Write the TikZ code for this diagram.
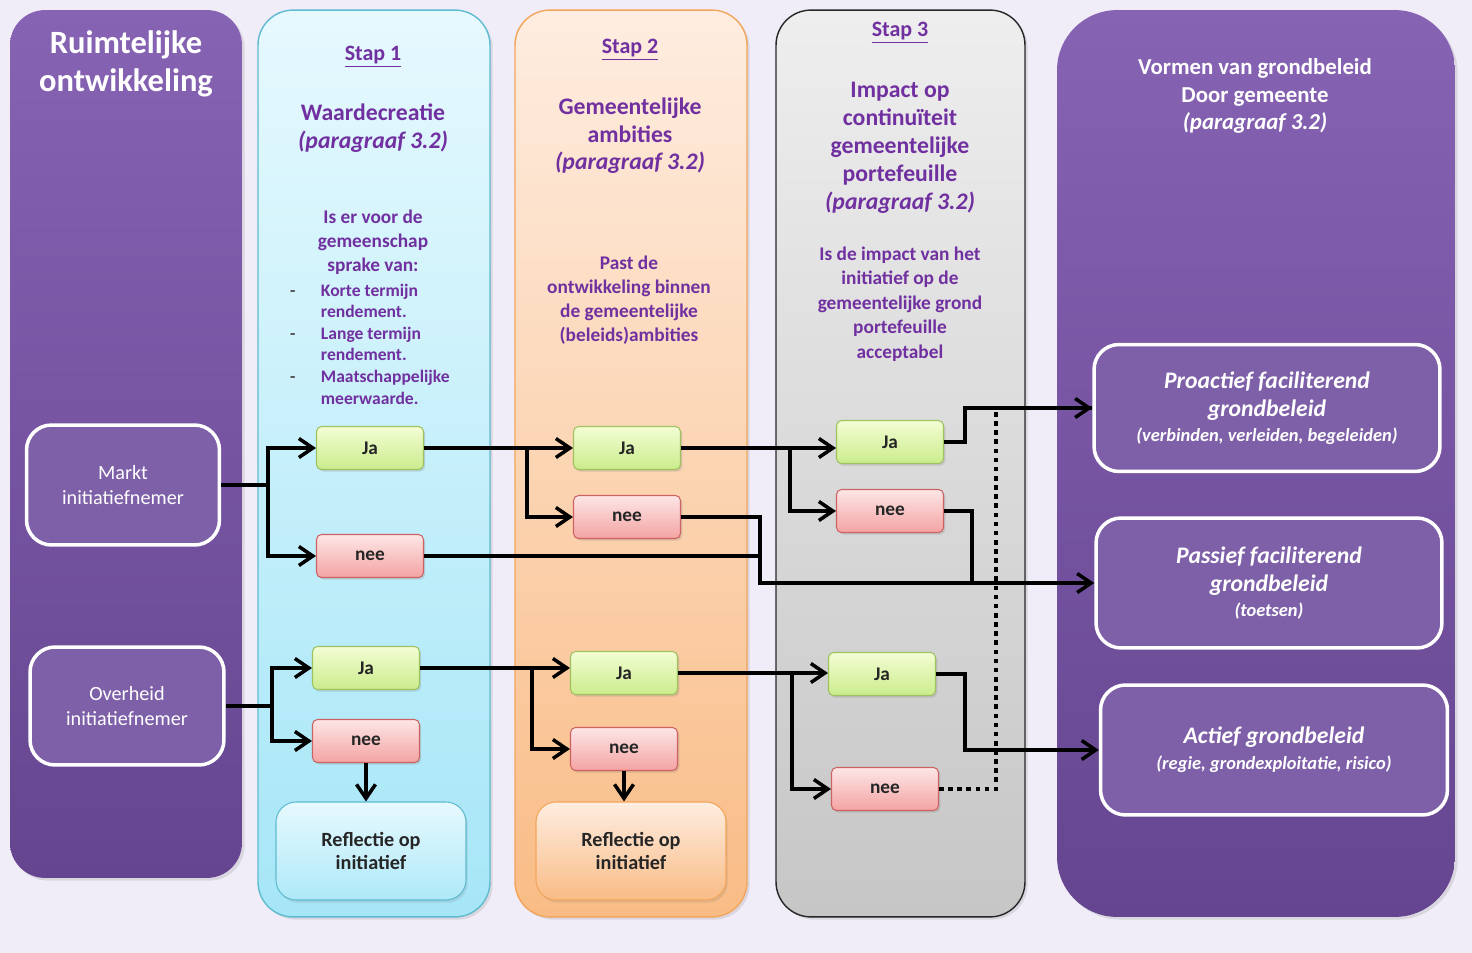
\documentclass[tikz,border=0pt]{standalone}
\usepackage{fontspec}
\setmainfont{Carlito}
\usetikzlibrary{positioning,arrows.meta,shadows,calc}
\definecolor{paper}{HTML}{F0ECF8}
\definecolor{plum}{HTML}{7030A0}
\definecolor{violettop}{HTML}{8763B3}
\definecolor{violetbot}{HTML}{654590}
\definecolor{violetin}{HTML}{7E60A8}
\definecolor{skytop}{HTML}{E6F9FE}
\definecolor{skybot}{HTML}{A6E6F7}
\definecolor{skyline}{HTML}{5FBBD0}
\definecolor{peachtop}{HTML}{FEEDE0}
\definecolor{peachbot}{HTML}{F9BC86}
\definecolor{peachline}{HTML}{F3A55A}
\definecolor{greytop}{HTML}{EEEEEE}
\definecolor{greybot}{HTML}{C6C6C6}
\definecolor{jatop}{HTML}{F3FDD4}
\definecolor{jabot}{HTML}{CBEC8C}
\definecolor{jaline}{HTML}{9DC25E}
\definecolor{neetop}{HTML}{FDE6E6}
\definecolor{neebot}{HTML}{F4A3A3}
\definecolor{neeline}{HTML}{CC6262}
\newcommand{\fsz}[2]{\fontsize{#1}{#2}\selectfont}
\newcommand{\dash}{\makebox[17.5pt][l]{\textcolor{black!70}{-}}}

\begin{document}
\begin{tikzpicture}[x=0.02cm, y=-0.02cm, >={Straight Barb[length=2.8mm,width=3.8mm]},
  lane/.style={rounded corners=0.7cm, inner sep=0pt, line width=0.8pt,
               drop shadow={opacity=0.2, shadow xshift=1.5pt, shadow yshift=-1.5pt}},
  pbox/.style={rounded corners=0.5cm, draw=white, line width=2pt, fill=violetin,
               text=white, align=center, inner sep=0pt},
  keuze/.style={rounded corners=0.1cm, minimum width=2.14cm, minimum height=0.86cm, inner sep=0pt,
                line width=0.6pt, font=\fsz{11}{13}\bfseries, text=black!85,
                drop shadow={opacity=0.25, shadow xshift=1pt, shadow yshift=-1.2pt}},
  ja/.style={keuze, top color=jatop, bottom color=jabot, draw=jaline},
  nee/.style={keuze, top color=neetop, bottom color=neebot, draw=neeline},
  refl/.style={rounded corners=0.4cm, minimum width=3.8cm, minimum height=1.96cm, align=center,
               line width=0.6pt, font=\fsz{11.5}{13.6}\bfseries, text=black!85,
               drop shadow={opacity=0.2, shadow xshift=1pt, shadow yshift=-1.5pt}},
  kop/.style={text=plum, align=center},
  flow/.style={->, line width=2pt},
  wire/.style={line width=2pt},
  dots/.style={line width=2.6pt, dash pattern=on 2.6pt off 2.6pt}]
\path[use as bounding box, fill=paper] (0,0) rectangle (1472,953);
% -- Ruimtelijke ontwikkeling
\node[lane, top color=violettop, bottom color=violetbot, minimum width=4.64cm, minimum height=17.36cm] (ruimte) at (126,444) {};
\node[text=white, align=center, font=\fsz{18.5}{21.5}\bfseries] (ruimtekop) at (126,64) {Ruimtelijke\\ontwikkeling};
\node[pbox, minimum width=3.86cm, minimum height=2.4cm, font=\fsz{11.5}{14.2}] (markt) at (123,485) {Markt\\initiatiefnemer};
\node[pbox, minimum width=3.88cm, minimum height=2.36cm, font=\fsz{11.5}{14.2}] (overheid) at (127,706) {Overheid\\initiatiefnemer};
% -- Stap 1
\node[lane, top color=skytop, bottom color=skybot, draw=skyline, minimum width=4.64cm, minimum height=18.14cm] (stap1) at (374,463.5) {};
\node[kop, font=\fsz{12.5}{15}\bfseries] (s1) at (373,57) {\underline{Stap 1}};
\node[kop, font=\fsz{13.5}{16}\bfseries] (w1) at (373,128) {Waardecreatie\\\textit{(paragraaf 3.2)}};
\node[kop, font=\fsz{11}{13.6}\bfseries] (v1) at (373,242) {Is er voor de\\gemeenschap\\sprake van:};
\node[kop, align=left, anchor=west, font=\fsz{10}{12.3}\bfseries] (l1) at (284,344)
  {\dash Korte termijn\\\hspace*{17.5pt}rendement.\\\dash Lange termijn\\\hspace*{17.5pt}rendement.\\\dash Maatschappelijke\\\hspace*{17.5pt}meerwaarde.};
\node[ja] (ja1) at (370,448) {Ja};
\node[nee] (nee1) at (370,556) {nee};
\node[ja] (ja1b) at (366,668) {Ja};
\node[nee] (nee1b) at (366,741) {nee};
\node[refl, top color=skytop, bottom color=skybot!90, draw=skyline] (refl1) at (371,851) {Reflectie op\\initiatief};
% -- Stap 2
\node[lane, top color=peachtop, bottom color=peachbot, draw=peachline, minimum width=4.64cm, minimum height=18.14cm] (stap2) at (631,463.5) {};
\node[kop, font=\fsz{12.5}{15}\bfseries] (s2) at (630,50) {\underline{Stap 2}};
\node[kop, font=\fsz{13.5}{15.6}\bfseries] (g2) at (630,136) {Gemeentelijke\\ambities\\\textit{(paragraaf 3.2)}};
\node[kop, font=\fsz{11}{13.6}\bfseries] (p2) at (629,300) {Past de\\ontwikkeling binnen\\de gemeentelijke\\(beleids)ambities};
\node[ja] (ja2) at (627,448) {Ja};
\node[nee] (nee2) at (627,517) {nee};
\node[ja] (ja2b) at (624,673) {Ja};
\node[nee] (nee2b) at (624,749) {nee};
\node[refl, top color=peachtop, bottom color=peachbot, draw=peachline] (refl2) at (631,851) {Reflectie op\\initiatief};
% -- Stap 3
\node[lane, top color=greytop, bottom color=greybot, draw=black!85, minimum width=4.98cm, minimum height=18.14cm] (stap3) at (900.5,463.5) {};
\node[kop, font=\fsz{12.5}{15}\bfseries] (s3) at (900,33) {\underline{Stap 3}};
\node[kop, font=\fsz{13.5}{15.9}\bfseries] (i3) at (900,148) {Impact op\\continuïteit\\gemeentelijke\\portefeuille\\\textit{(paragraaf 3.2)}};
\node[kop, font=\fsz{11}{13.9}\bfseries] (q3) at (900,304) {Is de impact van het\\initiatief op de\\gemeentelijke grond\\portefeuille\\acceptabel};
\node[ja] (ja3) at (890,442) {Ja};
\node[nee] (nee3) at (890,511) {nee};
\node[ja] (ja3b) at (882,674) {Ja};
\node[nee] (nee3b) at (885,789) {nee};
% -- Vormen van grondbeleid
\node[lane, rounded corners=1.2cm, top color=violettop, bottom color=violetbot, minimum width=7.96cm, minimum height=18.14cm] (vormen) at (1256,463.5) {};
\node[text=white, align=center, font=\fsz{13}{15.6}\bfseries] (vormenkop) at (1255,96) {Vormen van grondbeleid\\Door gemeente\\\textit{(paragraaf 3.2)}};
\node[pbox, minimum width=6.92cm, minimum height=2.54cm, font=\fsz{13.5}{16}\bfseries\itshape] (pro) at (1267,408)
  {Proactief faciliterend\\grondbeleid\\[-2pt]{\fsz{10.5}{12.5}(verbinden, verleiden, begeleiden)}};
\node[pbox, minimum width=6.92cm, minimum height=2.6cm, font=\fsz{13.5}{16}\bfseries\itshape] (pas) at (1269,583)
  {Passief faciliterend\\grondbeleid\\[-2pt]{\fsz{10.5}{12.5}(toetsen)}};
\node[pbox, minimum width=6.94cm, minimum height=2.6cm, font=\fsz{13.5}{16}\bfseries\itshape] (act) at (1274,750)
  {Actief grondbeleid\\[-1pt]{\fsz{10.5}{12.5}(regie, grondexploitatie, risico)}};
% -- connectors
\coordinate (b0) at (268,485);
\coordinate (b0b) at (272,706);
\coordinate (b1) at (527,448);
\coordinate (b1b) at (532,668);
\coordinate (b2) at (790,448);
\coordinate (b2b) at (792,673);
\coordinate (m1) at (760,583);
\coordinate (m2) at (972,583);
\draw[wire] (markt.east) -- (b0);
\draw[wire] (overheid.east) -- (b0b);
\foreach \a/\b in {b0/ja1, b0/nee1, b0b/ja1b, b0b/nee1b, b1/nee2, b1b/nee2b, b2/nee3, b2b/nee3b}
  \draw[flow] (\a) |- (\b.west);
\draw[flow] (ja1.east) -- (ja1.east -| ja2.west);
\draw[flow] (ja2.east) -- (ja2.east -| ja3.west);
\draw[flow] (ja1b.east) -- (ja1b.east -| ja2b.west);
\draw[flow] (ja2b.east) -- (ja2b.east -| ja3b.west);
\draw[flow] (nee1b.south) -- (nee1b.south |- refl1.north);
\draw[flow] (nee2b.south) -- (nee2b.south |- refl2.north);
\draw[flow] (nee1.east) -| (m1) -- (pas.west);
\draw[wire] (nee2.east) -| (m1);
\draw[wire] (nee3.east) -| (m2);
\draw[flow] (ja3.east) -- ++(21,0) |- (pro.west);
\draw[flow] (ja3b.east) -- ++(29,0) |- (act.west);
\draw[dots] (nee3b.east) -- ++(57,0) |- (pro.west);
\end{tikzpicture}
\end{document}
